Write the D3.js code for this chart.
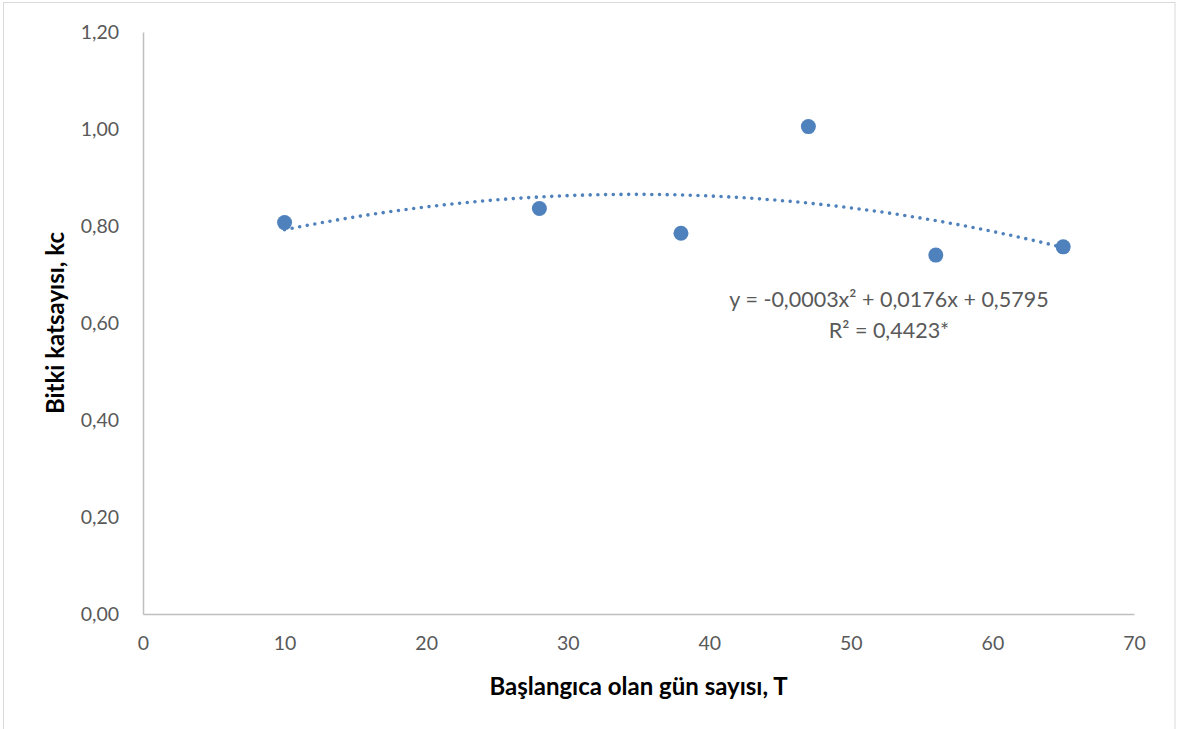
<!DOCTYPE html>
<html>
<head>
<meta charset="utf-8">
<script src="https://cdn.jsdelivr.net/npm/d3@7"></script>
<style>
  body { margin: 0; background: #fff; }
  svg { display: block; }
</style>
</head>
<body>
<svg id="chart" width="1179" height="729"></svg>
<script>
"use strict";

// data
const days = [10, 28, 38, 47, 56, 65];
const kc = [0.807, 0.836, 0.785, 1.005, 0.740, 0.757];
const xTicks = [0, 10, 20, 30, 40, 50, 60, 70];
const yTicks = [0, 0.2, 0.4, 0.6, 0.8, 1.0, 1.2];
const eqLabel = "y = -0,0003x² + 0,0176x + 0,5795";
const r2Label = "R² = 0,4423*";
const xTitle = "Başlangıca olan gün sayısı, T";
const yTitle = "Bitki katsayısı, kc";

const chartWidth = 1179;
const chartHeight = 729;
const margin = { left: 143, top: 32, right: 45, bottom: 115 };
const blue = "#4f81bd";
const font = "Lato, 'Open Sans', sans-serif";

const svg = d3.select("#chart");

// outer chart border
svg.append("rect")
  .attr("x", 3.5).attr("y", 2.5)
  .attr("width", 1171.5).attr("height", 760)
  .attr("fill", "none").attr("stroke", "#d9d9d9").attr("stroke-width", 1);

const x = d3.scaleLinear().domain([0, 70]).range([margin.left, chartWidth - margin.right]);
const y = d3.scaleLinear().domain([0, 1.2]).range([chartHeight - margin.bottom, margin.top]);

const comma = d => d3.format(".2f")(d).replace(".", ",");

// x axis
const gx = svg.append("g")
  .attr("transform", "translate(0," + y(0) + ")")
  .call(d3.axisBottom(x).tickValues(xTicks).tickSize(0).tickPadding(22).tickFormat(d3.format("d")));
gx.select(".domain").attr("stroke", "#bfbfbf").attr("stroke-width", 1.5);
gx.selectAll("text").attr("fill", "#595959").style("font-family", font).style("font-size", "19.5px");

// y axis
const gy = svg.append("g")
  .attr("transform", "translate(" + x(0) + ",0)")
  .call(d3.axisLeft(y).tickValues(yTicks).tickSize(0).tickPadding(24).tickFormat(comma));
gy.select(".domain").attr("stroke", "#bfbfbf").attr("stroke-width", 1.5);
gy.selectAll("text").attr("fill", "#595959").style("font-family", font).style("font-size", "19.5px");

// quadratic least squares trendline from the points
const fitQuad = function (xs, ys) {
  let S = [0, 0, 0, 0, 0], T = [0, 0, 0];
  xs.forEach((xi, i) => {
    for (let k = 0; k < 5; k++) S[k] += Math.pow(xi, k);
    for (let k = 0; k < 3; k++) T[k] += ys[i] * Math.pow(xi, k);
  });
  const A = [[S[0], S[1], S[2], T[0]], [S[1], S[2], S[3], T[1]], [S[2], S[3], S[4], T[2]]];
  for (let i = 0; i < 3; i++) {
    for (let j = i + 1; j < 3; j++) {
      const f = A[j][i] / A[i][i];
      for (let k = i; k < 4; k++) A[j][k] -= f * A[i][k];
    }
  }
  const c = [0, 0, 0];
  for (let i = 2; i >= 0; i--) {
    let s = A[i][3];
    for (let k = i + 1; k < 3; k++) s -= A[i][k] * c[k];
    c[i] = s / A[i][i];
  }
  return c;
};
const coef = fitQuad(days, kc);
const trend = d3.range(d3.min(days), d3.max(days) + 0.01, 0.5)
  .map(t => [t, coef[0] + coef[1] * t + coef[2] * t * t]);

svg.append("path")
  .datum(trend)
  .attr("fill", "none")
  .attr("stroke", blue)
  .attr("stroke-width", 3.6)
  .attr("stroke-linecap", "round")
  .attr("stroke-dasharray", "0 7.7")
  .attr("d", d3.line().x(d => x(d[0])).y(d => y(d[1])));

// points
svg.selectAll("circle.pt")
  .data(days.map((d, i) => [d, kc[i]]))
  .enter()
  .append("circle")
  .attr("class", "pt")
  .attr("cx", d => x(d[0]))
  .attr("cy", d => y(d[1]))
  .attr("r", 7.5)
  .attr("fill", blue);

// trendline label
svg.append("text")
  .attr("x", 889).attr("y", 307)
  .attr("text-anchor", "middle")
  .attr("fill", "#595959")
  .style("font-family", font).style("font-size", "21.5px")
  .text(eqLabel);
svg.append("text")
  .attr("x", 889).attr("y", 338)
  .attr("text-anchor", "middle")
  .attr("fill", "#595959")
  .style("font-family", font).style("font-size", "21.5px")
  .text(r2Label);

// axis titles
svg.append("text")
  .attr("x", (x(0) + x(70)) / 2).attr("y", 695)
  .attr("text-anchor", "middle")
  .attr("fill", "#000")
  .style("font-family", font).style("font-size", "24px").style("font-weight", "bold")
  .text(xTitle);
svg.append("text")
  .attr("transform", "translate(64," + (y(0) + y(1.2)) / 2 + ") rotate(-90)")
  .attr("text-anchor", "middle")
  .attr("fill", "#000")
  .style("font-family", font).style("font-size", "24px").style("font-weight", "bold")
  .text(yTitle);
</script>
</body>
</html>
